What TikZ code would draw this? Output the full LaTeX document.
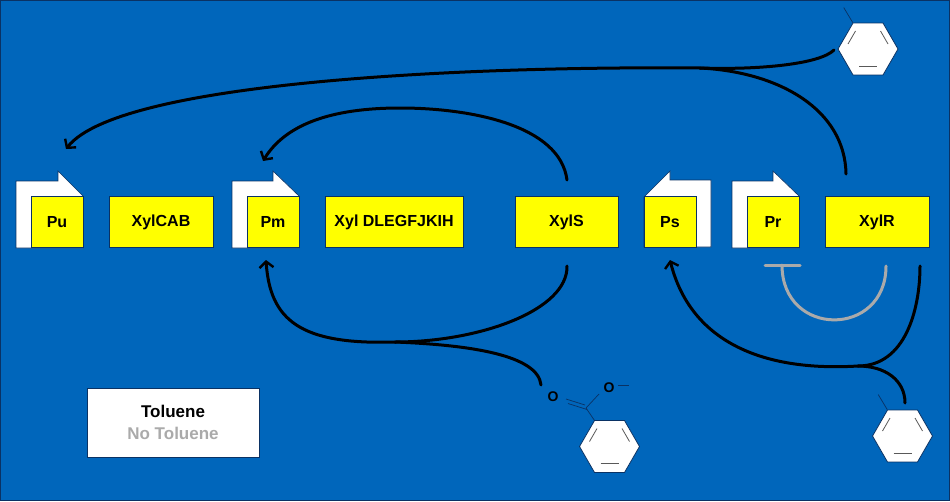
\documentclass[tikz,border=0pt]{standalone}
\usepackage{fontspec}
\setmainfont{Liberation Sans}
\usetikzlibrary{shapes.geometric,arrows.meta}
\definecolor{bgblue}{RGB}{0,102,187}
\definecolor{edge}{RGB}{10,50,100}
\definecolor{geneyellow}{RGB}{255,255,0}
\definecolor{inhib}{RGB}{170,170,170}
\tikzset{
  gene/.style={draw=edge,line width=0.8pt,fill=geneyellow,minimum height=51pt,inner sep=0pt,font=\bfseries\fontsize{16}{18}\selectfont,text=black},
  promwhite/.style={fill=white,draw=edge,line width=0.6pt},
  hex/.style={regular polygon,regular polygon sides=6,minimum size=60pt,inner sep=0pt,fill=white,draw=edge,line width=0.8pt},
  bond/.style={line width=0.7pt,color=edge},
  ringbond/.style={line width=0.8pt,color=black!65},
  act/.style={line width=3pt,color=black,line cap=round},
  acttip/.style={act,-{Straight Barb[length=6pt,width=14pt,line width=2.4pt]}},
  rep/.style={line width=3pt,color=inhib,line cap=round},
  atom/.style={font=\bfseries\fontsize{14}{14}\selectfont,inner sep=0pt,text=black}
}
\newcommand{\ringbonds}[1]{%
  \draw[ringbond] (#1.center)++(-20,-5) -- ++(7.5,-13);
  \draw[ringbond] (#1.center)++(20,-5) -- ++(-7.5,-13);
  \draw[ringbond] (#1.center)++(-9,17) -- ++(18,0);
}
\begin{document}
\begin{tikzpicture}[x=1pt,y=-1pt]
\useasboundingbox (0,0) rectangle (950,501);
\fill[bgblue] (0,0) rectangle (950,501);
\draw[edge,line width=1pt] (0.5,0.5) rectangle (949.5,500.5);

% promoter arrows
\draw[promwhite] (16,181) -- (58,181) -- (58,171) -- (83,196) -- (83,248) -- (16,248) -- cycle;
\draw[promwhite] (232,181) -- (273,181) -- (273,171) -- (299,196) -- (299,248) -- (232,248) -- cycle;
\draw[promwhite] (644,197) -- (670,171) -- (670,180) -- (711,180) -- (711,247) -- (644,247) -- cycle;
\draw[promwhite] (732,181) -- (773,181) -- (773,171) -- (799,196) -- (799,248) -- (732,248) -- cycle;

% genes and promoters
\node[gene,minimum width=52pt] (pu) at (57,222) {Pu};
\node[gene,minimum width=104pt] (xylcab) at (161,222) {XylCAB};
\node[gene,minimum width=52pt] (pm) at (273,222) {Pm};
\node[gene,minimum width=138pt] (xyldle) at (394,222) {Xyl DLEGFJKIH};
\node[gene,minimum width=103pt] (xyls) at (566.5,222) {XylS};
\node[gene,minimum width=52pt] (ps) at (670,222) {Ps};
\node[gene,minimum width=52pt] (pr) at (773,222) {Pr};
\node[gene,minimum width=104pt] (xylr) at (877,222) {XylR};

% legend
\node[draw=edge,line width=0.9pt,fill=white,minimum width=172pt,minimum height=69pt,inner sep=0pt,align=center,font=\bfseries\fontsize{17}{22}\selectfont] (legend) at (173,422.5)
  {\textcolor{black}{Toluene}\\\textcolor{inhib}{No Toluene}};

% aromatic ligands
\node[hex] (tolA) at (868,49) {};
\draw[bond] (tolA.corner 2) -- ++(-9,-15);
\ringbonds{tolA}
\node[hex] (benz) at (609.5,446.5) {};
\ringbonds{benz}
\coordinate (cooc) at (586,408);
\draw[bond] (benz.corner 2) -- (cooc);
\draw[bond] (cooc)++(-1,-3) -- ++(-19,-6);
\draw[bond] (cooc)++(1,1.5) -- ++(-19,-6);
\node[atom] (oa) at (553,397) {O};
\node[atom] (ob) at (609,388) {O};
\draw[bond] (cooc) -- (599,394);
\coordinate (minusa) at (618,385);
\coordinate (minusb) at (629,385);
\draw[bond] (minusa) -- (minusb);
\node[hex] (tolB) at (902.5,436) {};
\draw[bond] (tolB.corner 2) -- ++(-9,-15);
\ringbonds{tolB}

% connector ends and junctions
\coordinate (puin) at (66,149);
\coordinate (pmtop) at (263,161);
\coordinate (pmbot) at (266,260);
\coordinate (psbot) at (670,260);
\coordinate (juncA) at (700,68);
\coordinate (juncB) at (395,342);
\coordinate (juncC) at (858,366);
\coordinate (xylstop) at (567,180);
\coordinate (xylsbot) at (567,266);
\coordinate (xylrtop) at (846,174);
\coordinate (xylrbot) at (920,266);
\coordinate (tolAout) at (834,50);
\coordinate (benzout) at (541,385);
\coordinate (tolBout) at (905,403);
\coordinate (repend) at (886,266);
\coordinate (repT) at (782,265);
\coordinate (repa) at (765,265);
\coordinate (repb) at (800,265);

% activation
\draw[acttip] (juncA) .. controls (480,66) and (120,80) .. (puin);
\draw[act] (tolAout) .. controls (820,64) and (760,70) .. (juncA);
\draw[act] (xylrtop) .. controls (845,110) and (780,72) .. (juncA);
\draw[acttip] (xylstop) .. controls (560,125) and (470,108) .. (400,108) .. controls (330,108) and (285,125) .. (pmtop);
\draw[act] (xylsbot) .. controls (568,310) and (480,342) .. (juncB);
\draw[acttip] (juncB) .. controls (300,345) and (270,320) .. (pmbot);
\draw[act] (benzout) .. controls (538,355) and (470,345) .. (juncB);
\draw[act] (xylrbot) .. controls (920,310) and (905,366) .. (juncC);
\draw[acttip] (juncC) .. controls (760,372) and (690,340) .. (psbot);
\draw[act] (tolBout) .. controls (905,380) and (885,366) .. (juncC);

% repression
\draw[rep] (repa) -- (repb);
\draw[rep] (repT) .. controls (782,338) and (886,338) .. (repend);
\end{tikzpicture}
\end{document}
